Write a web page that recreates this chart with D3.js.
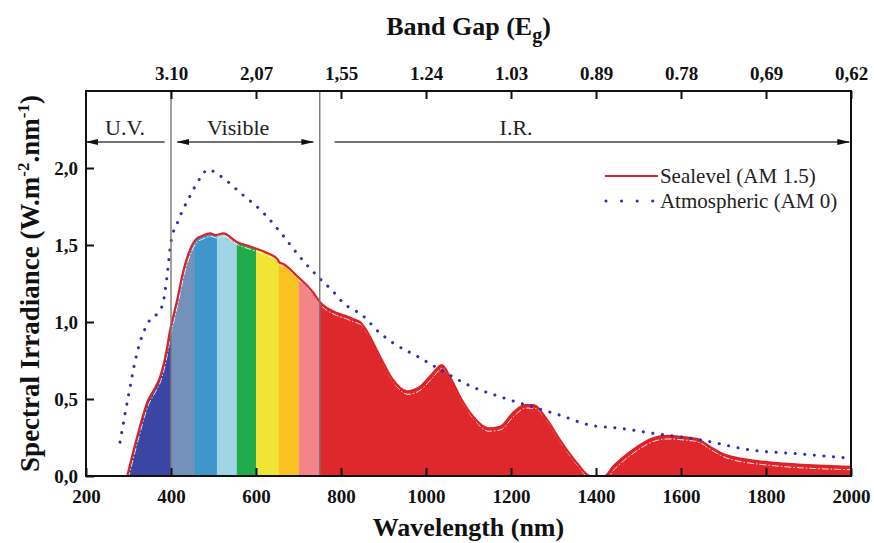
<!DOCTYPE html>
<html>
<head>
<meta charset="utf-8">
<script src="https://cdn.jsdelivr.net/npm/d3@7"></script>
<style>
  body { margin: 0; background: #fff; }
  text { font-family: "Liberation Serif", "Times New Roman", serif; }
</style>
</head>
<body>
<div id="wrapper"></div>
<script>
// AM 1.5 (sea level) spectrum
const seaWavelength = [297, 320, 346, 360, 374, 390, 398, 404, 415, 428, 445, 460, 470, 492, 505, 523, 555, 586, 625, 650, 656, 662, 696, 735, 750, 781, 810, 828, 845, 861, 892, 922, 955, 986, 1014, 1037, 1056, 1080, 1111, 1146, 1174, 1205, 1233, 1252, 1285, 1315, 1355, 1386, 1421, 1440, 1487, 1534, 1567, 1598, 1638, 1668, 1704, 1802, 2000]
const seaValues = [0, 0.25, 0.49, 0.56, 0.64, 0.82, 0.95, 1.02, 1.15, 1.32, 1.47, 1.54, 1.555, 1.575, 1.565, 1.575, 1.52, 1.49, 1.45, 1.41, 1.385, 1.38, 1.30, 1.19, 1.13, 1.07, 1.04, 1.02, 1.0, 0.94, 0.775, 0.625, 0.55, 0.58, 0.66, 0.72, 0.645, 0.515, 0.385, 0.31, 0.32, 0.41, 0.46, 0.46, 0.365, 0.235, 0.085, 0, 0, 0.06, 0.17, 0.245, 0.26, 0.255, 0.24, 0.19, 0.137, 0.09, 0.06]

// AM 0 (extraterrestrial) spectrum
const atmWavelength = [280, 299, 322, 346, 369, 381, 390, 400, 416, 445, 470, 487, 515, 567, 617, 664, 704, 751, 781, 805, 852, 887, 922, 981, 1040, 1108, 1174, 1249, 1315, 1386, 1456, 1527, 1645, 1762, 1880, 2000]
const atmValues = [0.22, 0.51, 0.82, 0.995, 1.06, 1.12, 1.28, 1.52, 1.65, 1.82, 1.94, 1.99, 1.95, 1.83, 1.71, 1.56, 1.42, 1.28, 1.2, 1.125, 1.04, 0.94, 0.865, 0.775, 0.68, 0.58, 0.515, 0.45, 0.395, 0.33, 0.31, 0.28, 0.235, 0.17, 0.143, 0.115]

// colour bands under the sea-level curve
const bandEdges = [290, 400, 455, 508, 555, 600, 654, 701, 750, 2000]
const bandColors = ["#3b45a3", "#7391bb", "#3e96cb", "#9fd5e5", "#22ab4b", "#f1e434", "#f9c221", "#f3848a", "#df282c"]

const xTicks = [200, 400, 600, 800, 1000, 1200, 1400, 1600, 1800, 2000]
const topTickWavelength = [400, 600, 800, 1000, 1200, 1400, 1600, 1800, 2000]
const topTickLabels = ["3.10", "2,07", "1,55", "1.24", "1.03", "0.89", "0.78", "0,69", "0,62"]
const yTicks = [0, 0.5, 1.0, 1.5, 2.0]
const yTickLabels = ["0,0", "0,5", "1,0", "1,5", "2,0"]

const regionLines = [400, 750]

function drawPlot() {
    //! dimensions
    let dimensions = {
        width: 874,
        height: 543,
        margin: { top: 91, right: 23, bottom: 67, left: 86 },
    }
    dimensions.boundedWidth = dimensions.width - dimensions.margin.left - dimensions.margin.right
    dimensions.boundedHeight = dimensions.height - dimensions.margin.top - dimensions.margin.bottom

    const svg = d3.select('#wrapper')
        .append('svg')
        .attr('width', dimensions.width)
        .attr('height', dimensions.height)

    const defs = svg.append('defs')
    defs.append('marker')
        .attr('id', 'arrow')
        .attr('viewBox', '0 0 13 8')
        .attr('refX', 12).attr('refY', 4)
        .attr('markerWidth', 13).attr('markerHeight', 8)
        .attr('markerUnits', 'userSpaceOnUse')
        .attr('orient', 'auto-start-reverse')
        .append('path')
        .attr('d', 'M0,1 L13,4 L0,7 Z')
        .attr('fill', '#111')

    const bounds = svg.append('g')
        .attr('transform', `translate(${dimensions.margin.left},${dimensions.margin.top})`)

    //* scales
    const xScale = d3.scaleLinear()
        .domain([200, 2000])
        .range([0, dimensions.boundedWidth])
    const yScale = d3.scaleLinear()
        .domain([0, 2.5])
        .range([dimensions.boundedHeight, 0])

    const sea = seaWavelength.map((w, i) => ({ w: w, v: seaValues[i] }))
    const atm = atmWavelength.map((w, i) => ({ w: w, v: atmValues[i] }))

    const area = d3.area()
        .x(d => xScale(d.w))
        .y0(yScale(0))
        .y1(d => yScale(d.v))
        .curve(d3.curveMonotoneX)
    const line = d3.line()
        .x(d => xScale(d.w))
        .y(d => yScale(d.v))
        .curve(d3.curveMonotoneX)

    //! coloured fill clipped to area under curve
    defs.append('clipPath')
        .attr('id', 'seaClip')
        .append('path')
        .attr('d', area(sea))

    const bands = d3.range(bandColors.length).map(i => ({ x0: bandEdges[i], x1: bandEdges[i + 1], c: bandColors[i] }))
    bounds.append('g')
        .attr('clip-path', 'url(#seaClip)')
        .selectAll('rect')
        .data(bands)
        .join('rect')
        .attr('x', d => xScale(d.x0))
        .attr('width', d => xScale(d.x1) - xScale(d.x0) + 0.5)
        .attr('y', 0)
        .attr('height', dimensions.boundedHeight)
        .attr('fill', d => d.c)

    // white dash-dot line just inside the fill
    bounds.append('path')
        .attr('d', line(sea))
        .attr('transform', 'translate(1,3)')
        .attr('fill', 'none')
        .attr('stroke', '#fff')
        .attr('stroke-width', 1)
        .attr('stroke-dasharray', '7,2,1.5,2')
        .attr('opacity', 0.85)

    // red outline
    bounds.append('path')
        .attr('d', line(sea))
        .attr('fill', 'none')
        .attr('stroke', '#dd2226')
        .attr('stroke-width', 2.2)

    // dotted AM0 curve
    bounds.append('path')
        .attr('d', line(atm))
        .attr('fill', 'none')
        .attr('stroke', '#2b2fb3')
        .attr('stroke-width', 3)
        .attr('stroke-linecap', 'round')
        .attr('stroke-dasharray', '0.1,9.5')

    //! region separators
    bounds.selectAll('.sep')
        .data(regionLines)
        .join('line')
        .attr('x1', d => xScale(d)).attr('x2', d => xScale(d))
        .attr('y1', 0).attr('y2', dimensions.boundedHeight)
        .attr('stroke', '#777')
        .attr('stroke-width', 1.4)

    //! region arrows + labels
    const arrowY = 51
    const arrows = [
        { from: 385, to: 201, start: false, end: true, label: 'U.V.', lx: 292 },
        { from: 415, to: 735, start: true, end: true, label: 'Visible', lx: 558 },
        { from: 785, to: 1996, start: false, end: true, label: 'I.R.', lx: 1212 },
    ]
    arrows.forEach(a => {
        const l = bounds.append('line')
            .attr('x1', xScale(a.from)).attr('x2', xScale(a.to))
            .attr('y1', arrowY).attr('y2', arrowY)
            .attr('stroke', '#444')
            .attr('stroke-width', 1.4)
        if (a.end) l.attr('marker-end', 'url(#arrow)')
        if (a.start) l.attr('marker-start', 'url(#arrow)')
        bounds.append('text')
            .attr('x', xScale(a.lx))
            .attr('y', arrowY - 7)
            .attr('text-anchor', 'middle')
            .style('font-size', '22px')
            .style('fill', '#222')
            .text(a.label)
    })

    //! frame and ticks
    bounds.append('rect')
        .attr('width', dimensions.boundedWidth)
        .attr('height', dimensions.boundedHeight)
        .attr('fill', 'none')
        .attr('stroke', '#111')
        .attr('stroke-width', 2)

    const xAxis = d3.axisBottom(xScale)
        .tickValues(xTicks)
        .tickFormat(d3.format('d'))
        .tickSizeInner(-8).tickSizeOuter(0)
        .tickPadding(14)
    const xg = bounds.append('g')
        .attr('transform', `translate(0,${dimensions.boundedHeight})`)
        .call(xAxis)
    xg.select('.domain').remove()

    const topAxis = d3.axisTop(xScale)
        .tickValues(topTickWavelength)
        .tickFormat((d, i) => topTickLabels[i])
        .tickSizeInner(-8).tickSizeOuter(0)
        .tickPadding(11)
    const tg = bounds.append('g').call(topAxis)
    tg.select('.domain').remove()

    const yAxis = d3.axisLeft(yScale)
        .tickValues(yTicks)
        .tickFormat((d, i) => yTickLabels[i])
        .tickSizeInner(-8).tickSizeOuter(0)
        .tickPadding(8)
    const yg = bounds.append('g').call(yAxis)
    yg.select('.domain').remove()

    svg.selectAll('.tick line').attr('stroke', '#111').attr('stroke-width', 2)
    svg.selectAll('.tick text')
        .style('font-family', '"Liberation Serif", serif')
        .style('font-size', '19px')
        .style('font-weight', 'bold')
        .style('fill', '#111')

    //! axis titles
    const titleStyle = sel => sel
        .style('font-size', '26px')
        .style('font-weight', 'bold')
        .style('fill', '#111')
        .attr('text-anchor', 'middle')

    svg.append('text')
        .attr('x', dimensions.margin.left + dimensions.boundedWidth / 2)
        .attr('y', 536)
        .call(titleStyle)
        .text('Wavelength (nm)')

    const bt = svg.append('text')
        .attr('x', dimensions.margin.left + dimensions.boundedWidth / 2)
        .attr('y', 35)
        .call(titleStyle)
    bt.append('tspan').text('Band Gap (E')
    bt.append('tspan').attr('dy', 7).style('font-size', '20px').text('g')
    bt.append('tspan').attr('dy', -7).text(')')

    const yt = svg.append('text')
        .attr('transform', `translate(39,${dimensions.margin.top + dimensions.boundedHeight / 2}) rotate(-90)`)
        .call(titleStyle)
        .style('font-size', '27px')
    yt.append('tspan').text('Spectral Irradiance (W.m')
    yt.append('tspan').attr('dy', -10).style('font-size', '17px').text('-2')
    yt.append('tspan').attr('dy', 10).text('.nm')
    yt.append('tspan').attr('dy', -10).style('font-size', '17px').text('-1')
    yt.append('tspan').attr('dy', 10).text(')')

    //! legend
    const legend = bounds.append('g')
        .attr('transform', `translate(${xScale(1421)},${85})`)
    legend.append('line')
        .attr('x1', 0).attr('x2', 53).attr('y1', 0).attr('y2', 0)
        .attr('stroke', '#dd2226').attr('stroke-width', 2)
    legend.append('line')
        .attr('x1', 1).attr('x2', 53).attr('y1', 25).attr('y2', 25)
        .attr('stroke', '#2b2fb3').attr('stroke-width', 3)
        .attr('stroke-linecap', 'round')
        .attr('stroke-dasharray', '0.1,15.5')
    legend.append('text')
        .attr('x', 55).attr('y', 7)
        .style('font-size', '21px').style('fill', '#222')
        .text('Sealevel (AM 1.5)')
    legend.append('text')
        .attr('x', 55).attr('y', 32)
        .style('font-size', '21px').style('fill', '#222')
        .text('Atmospheric (AM 0)')
}

drawPlot()
</script>
</body>
</html>
